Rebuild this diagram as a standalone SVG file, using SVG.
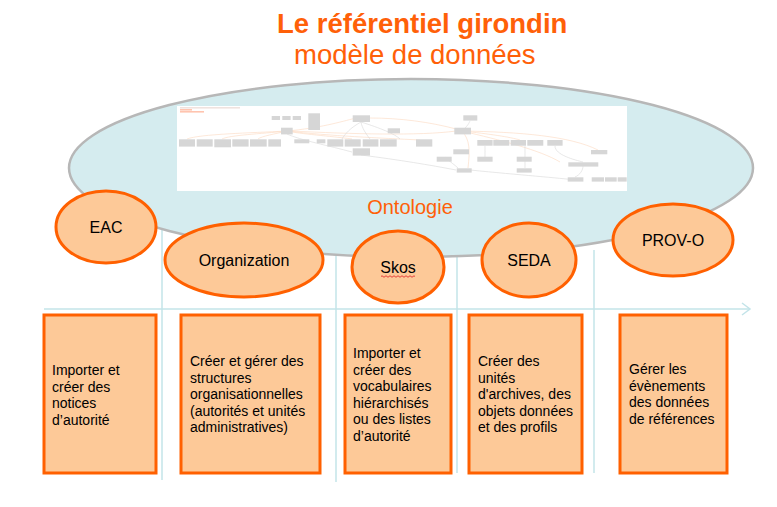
<svg xmlns="http://www.w3.org/2000/svg" width="777" height="507" viewBox="0 0 777 507">
<style>
.title{font-family:"Liberation Sans",Arial,sans-serif;fill:#ff6008}
.lbl{font-family:"Liberation Sans",Arial,sans-serif;font-size:16px;fill:#000;text-anchor:middle}
.txt{font-family:"Liberation Sans",Arial,sans-serif;font-size:14px;fill:#000}
.node{fill:#fdc998;stroke:#ff6000;stroke-width:3}
.box{fill:#fdc998;stroke:#ff6000;stroke-width:3}
.axis{stroke:#c3e4e9;stroke-width:1.5;fill:none}
.gb{fill:#d6d6d6}
.ol{stroke:#fbd9c0;stroke-width:0.6;fill:none}
.gl{stroke:#d9d9d9;stroke-width:0.6;fill:none}
</style>
<rect width="777" height="507" fill="#fff"/>

<g id="title">
<text class="title" x="277" y="33" font-size="27.5" font-weight="bold">Le référentiel girondin</text>
<text class="title" x="294" y="63.5" font-size="27.5">modèle de données</text>
</g>

<g id="axes">
<line class="axis" x1="162" y1="228" x2="162" y2="480"/>
<line class="axis" x1="336" y1="252" x2="336" y2="482"/>
<line class="axis" x1="457" y1="257" x2="457" y2="473"/>
<line class="axis" x1="594" y1="250" x2="594" y2="473"/>
<line class="axis" x1="44" y1="309" x2="750" y2="309"/>
<polyline class="axis" points="742,303 750,309 742,315"/>
</g>

<g id="ontologie">
<ellipse cx="411" cy="168" rx="342" ry="89" fill="#d5ecef" stroke="#b7b7b7" stroke-width="2.5"/>
<rect x="177" y="106" width="450" height="85" fill="#fff"/>
<g id="mini-graph">
<rect x="180" y="107.5" width="60" height="0.8" fill="#e0c8c0"/>
<rect x="180" y="109.5" width="12" height="0.8" fill="#ff8a60"/>
<rect x="180" y="111.5" width="24" height="0.8" fill="#ff8a60"/>
<path class="ol" d="M287 131 C250 133 200 134 187 139"/>
<path class="ol" d="M287 131 C260 134 230 135 222 139"/>
<path class="ol" d="M287 131 C275 134 262 136 258 139"/>
<path class="ol" d="M287 131 C300 134 330 136 352 139"/>
<path class="ol" d="M287 131 C320 128 340 122 356 118"/>
<path class="ol" d="M292 131 C350 134 420 136 456 131"/>
<path class="ol" d="M287 131 C330 136 380 138 420 140"/>
<path class="ol" d="M462 131 C490 134 510 137 520 140"/>
<path class="ol" d="M462 131 C520 132 570 136 598 150"/>
<path class="ol" d="M462 131 C470 140 470 150 468 168"/>
<path class="ol" d="M462 131 C500 140 540 150 560 162"/>
<path class="ol" d="M370 118 C400 118 430 122 456 129"/>
<path class="gl" d="M361 122 C350 128 345 134 342 139"/>
<path class="gl" d="M361 122 C362 128 366 134 370 139"/>
<path class="gl" d="M361 122 C380 128 395 134 400 139"/>
<path class="gl" d="M287 134 C300 140 330 146 352 152"/>
<path class="gl" d="M361 155 C400 160 430 165 456 170"/>
<path class="gl" d="M470 170 C520 175 560 178 575 180"/>
<path class="gl" d="M462 131 C470 124 470 120 470 121"/>
<path class="gl" d="M485 146 C485 150 485 154 485 157"/>
<path class="gl" d="M525 146 C525 150 525 160 525 168"/>
<path class="gl" d="M555 146 C555 155 575 160 583 162"/>
<path class="gl" d="M445 157 C450 162 455 165 458 168"/>
<path class="gl" d="M583 166 C583 170 580 175 575 177"/>
<rect class="gb" x="271.7" y="116" width="8.3" height="4"/>
<rect class="gb" x="282.3" y="116" width="8.3" height="4"/>
<rect class="gb" x="292.7" y="116" width="8.3" height="4"/>
<rect class="gb" x="308.3" y="113.3" width="11.7" height="16.7"/>
<rect class="gb" x="352.7" y="115.3" width="17.3" height="6.7"/>
<rect class="gb" x="463.3" y="115.3" width="14" height="5.3"/>
<rect class="gb" x="281" y="127.7" width="11.7" height="6.7"/>
<rect class="gb" x="454.3" y="127.7" width="16.7" height="6.7"/>
<rect class="gb" x="387.7" y="128.3" width="12.3" height="5"/>
<rect class="gb" x="179" y="139.3" width="16" height="7.3"/>
<rect class="gb" x="196.7" y="139.3" width="16" height="7.3"/>
<rect class="gb" x="214.3" y="139.3" width="16.7" height="8"/>
<rect class="gb" x="232.3" y="139.3" width="16.3" height="7.3"/>
<rect class="gb" x="250" y="139.3" width="16.7" height="7.3"/>
<rect class="gb" x="268.3" y="139.3" width="12.7" height="7.3"/>
<rect class="gb" x="294.3" y="139.3" width="15" height="4"/>
<rect class="gb" x="316.7" y="139.3" width="8.7" height="4"/>
<rect class="gb" x="327.3" y="139.3" width="16" height="7.3"/>
<rect class="gb" x="344.7" y="139.3" width="16" height="7.3"/>
<rect class="gb" x="362.7" y="139.3" width="15.7" height="7.3"/>
<rect class="gb" x="380" y="139.3" width="16.7" height="7.3"/>
<rect class="gb" x="416" y="139.3" width="16.3" height="7.3"/>
<rect class="gb" x="477.3" y="140" width="15.3" height="5.7"/>
<rect class="gb" x="493.3" y="140" width="16" height="5.7"/>
<rect class="gb" x="510.7" y="140" width="15.3" height="5.7"/>
<rect class="gb" x="527.3" y="140" width="16" height="5.7"/>
<rect class="gb" x="547.3" y="140" width="15.3" height="5.7"/>
<rect class="gb" x="352.7" y="148.3" width="17.3" height="7.3"/>
<rect class="gb" x="453.3" y="149.3" width="15.7" height="5"/>
<rect class="gb" x="436.7" y="156.7" width="15" height="5"/>
<rect class="gb" x="477.3" y="156.7" width="15.3" height="5"/>
<rect class="gb" x="516.7" y="156.7" width="15" height="5"/>
<rect class="gb" x="591" y="150" width="16.3" height="4.3"/>
<rect class="gb" x="456.7" y="168.3" width="15" height="4.3"/>
<rect class="gb" x="516.7" y="168.3" width="15" height="4.3"/>
<rect class="gb" x="568.3" y="162.3" width="30" height="4.3"/>
<rect class="gb" x="567.7" y="177.3" width="15.7" height="4.3"/>
<rect class="gb" x="591.7" y="177.3" width="12.3" height="4.3"/>
<rect class="gb" x="605" y="177.3" width="11.7" height="4.3"/>
<rect class="gb" x="617.7" y="177.3" width="9" height="4.3"/>
</g>
<text class="title" x="410" y="214" font-size="20" text-anchor="middle">Ontologie</text>
</g>

<g id="eac">
<ellipse class="node" cx="106" cy="227" rx="50" ry="36"/>
<text class="lbl" x="106" y="233">EAC</text>
</g>
<g id="organization">
<ellipse class="node" cx="244" cy="260" rx="79" ry="37"/>
<text class="lbl" x="244" y="266">Organization</text>
</g>
<g id="skos">
<ellipse class="node" cx="398" cy="267" rx="46" ry="36"/>
<text class="lbl" x="398" y="273">Skos</text>
<path d="M381 276.5 q1 -1.5 2 0 t2 0 t2 0 t2 0 t2 0 t2 0 t2 0 t2 0 t2 0 t2 0 t2 0 t2 0 t2 0 t2 0 t2 0 t2 0 t2 0" fill="none" stroke="#e03030" stroke-width="0.9"/>
</g>
<g id="seda">
<ellipse class="node" cx="529" cy="260" rx="47" ry="37"/>
<text class="lbl" x="529" y="266">SEDA</text>
</g>
<g id="provo">
<ellipse class="node" cx="673" cy="240" rx="60" ry="36"/>
<text class="lbl" x="673" y="246">PROV-O</text>
</g>

<g id="box-eac">
<rect class="box" x="44" y="315" width="112" height="158"/>
<text class="txt"><tspan x="52" y="375">Importer et</tspan><tspan x="52" y="391.5">créer des</tspan><tspan x="52" y="408">notices</tspan><tspan x="52" y="424.5">d’autorité</tspan></text>
</g>
<g id="box-organization">
<rect class="box" x="181" y="315" width="139" height="158"/>
<text class="txt"><tspan x="190" y="366">Créer et gérer des</tspan><tspan x="190" y="382.5">structures</tspan><tspan x="190" y="399">organisationnelles</tspan><tspan x="190" y="415.5">(autorités et unités</tspan><tspan x="190" y="432">administratives)</tspan></text>
</g>
<g id="box-skos">
<rect class="box" x="345" y="315" width="106" height="158"/>
<text class="txt"><tspan x="353" y="358">Importer et</tspan><tspan x="353" y="374.5">créer des</tspan><tspan x="353" y="391">vocabulaires</tspan><tspan x="353" y="407.5">hiérarchisés</tspan><tspan x="353" y="424">ou des listes</tspan><tspan x="353" y="440.5">d’autorité</tspan></text>
</g>
<g id="box-seda">
<rect class="box" x="469" y="315" width="113" height="158"/>
<text class="txt"><tspan x="478" y="366">Créer des</tspan><tspan x="478" y="382.5">unités</tspan><tspan x="478" y="399">d'archives, des</tspan><tspan x="478" y="415.5">objets données</tspan><tspan x="478" y="432">et des profils</tspan></text>
</g>
<g id="box-provo">
<rect class="box" x="620" y="315" width="107" height="158"/>
<text class="txt"><tspan x="629" y="374">Gérer les</tspan><tspan x="629" y="390.5">évènements</tspan><tspan x="629" y="407">des données</tspan><tspan x="629" y="423.5">de références</tspan></text>
</g>
</svg>
